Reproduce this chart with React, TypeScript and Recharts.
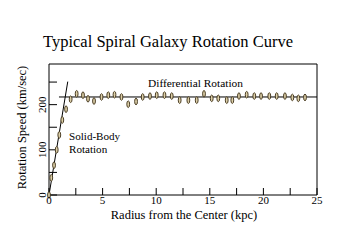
import React from 'react';
import { ComposedChart, XAxis, YAxis, Scatter, Line } from 'recharts';

// radius (kpc) and rotation speed (km/sec) of the measured points
const radius = [
  0, 0.21, 0.47, 0.72, 0.96, 1.24, 1.59, 2.02, 2.58, 3.17, 3.64, 4.2, 4.9, 5.53, 6.11,
  6.76, 7.39, 8.12, 8.74, 9.42, 10.05, 10.77, 11.45, 12.19, 13.0, 13.78, 14.46, 15.18,
  15.79, 16.58, 17.1, 17.72, 18.44, 19.15, 19.78, 20.55, 21.24, 22.01, 22.7, 23.26, 23.88,
];
const speed = [
  0, 38, 66, 100, 133, 166, 190, 212, 224, 221, 213, 208, 217, 221, 222,
  217, 201, 207, 217, 219, 221, 221, 219, 210, 210, 210, 224, 214,
  214, 210, 210, 219, 222, 219, 219, 219, 219, 219, 216, 214, 216,
];

// guide lines
const solidBodyLine = [
  { r: 0, v: 0 },
  { r: 1.75, v: 251 },
];
const differentialLine = [
  { r: 0.93, v: 217 },
  { r: 25, v: 217 },
];

const xTicks = [0, 2.5, 5, 7.5, 10, 12.5, 15, 17.5, 20, 22.5, 25];
const xTopTicks = [2.5, 5, 7.5, 10, 12.5, 15, 17.5, 20, 22.5];
const yTicks = [0, 50, 100, 150, 200, 250];

const points = radius.map((r, i) => ({ r, v: speed[i] }));

const SERIF = '"Liberation Serif", "Times New Roman", serif';

const Ellipse = (props: any) => (
  <ellipse
    cx={props.cx}
    cy={props.cy}
    rx={1.4}
    ry={3.3}
    fill="#dccfa8"
    stroke="#3a2c14"
    strokeWidth={0.9}
  />
);

const YTick = (props: any) => {
  const { x, y, payload } = props;
  if (payload.value % 100 !== 0) return null;
  return (
    <text
      transform={`translate(${x},${y}) rotate(-90)`}
      textAnchor="middle"
      fontSize={11}
      fontFamily={SERIF}
      fill="#000"
    >
      {payload.value}
    </text>
  );
};

export default function App() {
  return (
    <div style={{ position: 'absolute', left: 0, top: 0, width: 337, height: 251, background: '#fff' }}>
      <ComposedChart width={337} height={251} margin={{ top: 0, right: 0, bottom: 0, left: 0 }}>
        <XAxis
          dataKey="r"
          type="number"
          domain={[0, 25]}
          ticks={xTicks}
          interval={0}
          height={56}
          tickSize={-7}
          tickMargin={8}
          stroke="#000"
          tickFormatter={(t: number) => (t % 5 === 0 ? String(t) : '')}
          tick={{ fill: '#000', fontSize: 11, fontFamily: SERIF }}
        />
        <XAxis
          xAxisId="top"
          orientation="top"
          type="number"
          domain={[0, 25]}
          ticks={xTopTicks}
          interval={0}
          height={64}
          tickSize={-8}
          tick={false}
          stroke="#000"
        />
        <YAxis
          dataKey="v"
          type="number"
          domain={[0, 290]}
          ticks={yTicks}
          interval={0}
          width={49}
          tickSize={-8}
          tickMargin={11}
          stroke="#000"
          tick={<YTick />}
        />
        <YAxis
          yAxisId="right"
          orientation="right"
          type="number"
          domain={[0, 290]}
          ticks={yTicks.slice(1)}
          interval={0}
          width={20}
          tickSize={-8}
          tick={false}
          stroke="#000"
        />
        <Line
          data={solidBodyLine}
          dataKey="v"
          type="linear"
          stroke="#000"
          strokeWidth={1}
          dot={false}
          isAnimationActive={false}
        />
        <Line
          data={differentialLine}
          dataKey="v"
          type="linear"
          stroke="#000"
          strokeWidth={1}
          dot={false}
          isAnimationActive={false}
        />
        <Scatter data={points} shape={<Ellipse />} isAnimationActive={false} />
      </ComposedChart>
      <svg
        width={337}
        height={251}
        style={{ position: 'absolute', left: 0, top: 0, pointerEvents: 'none' }}
        fontFamily={SERIF}
        fill="#000"
      >
        <text x={168} y={46.5} textAnchor="middle" fontSize={16.5}>
          Typical Spiral Galaxy Rotation Curve
        </text>
        <text x={195.5} y={87} textAnchor="middle" fontSize={11.4}>
          Differential Rotation
        </text>
        <text x={69} y={140} fontSize={11.1}>
          Solid-Body
        </text>
        <text x={69} y={153} fontSize={11.1}>
          Rotation
        </text>
        <text x={184} y={219} textAnchor="middle" fontSize={12.5}>
          Radius from the Center (kpc)
        </text>
        <text transform="translate(26,127.5) rotate(-90)" textAnchor="middle" fontSize={12.5}>
          Rotation Speed (km/sec)
        </text>
      </svg>
    </div>
  );
}
